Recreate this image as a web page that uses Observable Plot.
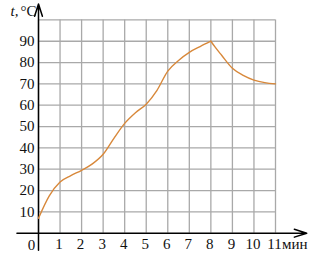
<!DOCTYPE html>
<html><head><meta charset="utf-8">
<script src="https://cdn.jsdelivr.net/npm/d3@7"></script>
<script src="https://cdn.jsdelivr.net/npm/@observablehq/plot@0.6"></script>
<style>body{margin:0;background:#fff} svg text{font-family:"Liberation Serif","Times New Roman",serif !important}</style>
</head><body><div id="chart"></div>
<script>
const riseX = [0, 0.5, 1, 1.5, 2, 2.5, 3, 3.5, 4, 4.5, 5, 5.5, 6, 6.5, 7, 7.5, 8];
const riseT = [7, 17.5, 24, 27, 29.5, 32.5, 37, 44.5, 51.5, 56.5, 60.5, 67, 76, 81, 84.8, 87.5, 90];
const fallX = [8, 8.2, 8.5, 9, 9.5, 10, 10.5, 11];
const fallT = [90, 87.2, 83.4, 77.3, 74, 71.8, 70.6, 70];
const xTicks = [1,2,3,4,5,6,7,8,9,10,11];
const yTicks = [10,20,30,40,50,60,70,80,90];
const gridX = [0,1,2,3,4,5,6,7,8,9,10,11];
const gridY = [10,20,30,40,50,60,70,80,90,100];

const rise = riseX.map((x,i)=>({x, t: riseT[i]}));
const fall = fallX.map((x,i)=>({x, t: fallT[i]}));
const font = '"Liberation Serif", "Times New Roman", serif';
const orange = "#d8883a";

const dart = {
  draw(context, l) {
    context.moveTo(0, -l);
    context.lineTo(3.6, 0);
    context.lineTo(0, -3);
    context.lineTo(-3.6, 0);
    context.closePath();
  }
};

let arrowMarks;
try {
  arrowMarks = [
    Plot.link([{x1: -1, y1: 0, x2: 12.2, y2: 0}, {x1: 0, y1: -8, x2: 0, y2: 106}],
      {x1: "x1", y1: "y1", x2: "x2", y2: "y2", stroke: "#000", strokeWidth: 1.5}),
    Plot.vector([{x: 12.45, y: 0, r: 90}, {x: 0, y: 107.5, r: 0}],
      {x: "x", y: "y", rotate: "r", length: 13, anchor: "tip", shape: dart, fill: "#000", stroke: "#000", strokeWidth: 0.6})
  ];
} catch (e) {
  arrowMarks = [Plot.arrow([{x1: -1, y1: 0, x2: 12.45, y2: 0}, {x1: 0, y1: -8, x2: 0, y2: 107.5}],
      {x1: "x1", y1: "y1", x2: "x2", y2: "y2", stroke: "#000", strokeWidth: 1.5, headLength: 13, headAngle: 35})];
}

const chart = Plot.plot({
  width: 322, height: 256,
  marginLeft: 38, marginRight: 47, marginTop: 19.4, marginBottom: 23.3,
  style: {fontFamily: font, fontSize: "15px", background: "#fff", overflow: "visible"},
  x: {domain: [0, 11]},
  y: {domain: [0, 100]},
  marks: [
    Plot.ruleX(gridX, {y1: 0, y2: 100, stroke: "#a9a9a9", strokeWidth: 1.3, strokeOpacity: 1}),
    Plot.ruleY(gridY, {x1: 0, x2: 11, stroke: "#a9a9a9", strokeWidth: 1.3, strokeOpacity: 1}),
    Plot.axisX(xTicks, {tickSize: 0, tickPadding: 5, fontSize: 15, fontFamily: font, label: null, fill: "#111", dx: -1}),
    Plot.axisY(yTicks, {tickSize: 0, tickPadding: 4, fontSize: 15, fontFamily: font, label: null, fill: "#111"}),
    ...arrowMarks,
    Plot.line(rise, {x: "x", y: "t", curve: "monotone-x", stroke: orange, strokeWidth: 1.4}),
    Plot.line(fall, {x: "x", y: "t", curve: "monotone-x", stroke: orange, strokeWidth: 1.4}),
    Plot.text(["0"], {x: 0, y: 0, dx: -7, dy: 12, fontSize: 15, fontFamily: font, fill: "#111"}),
    Plot.text(["t,"], {x: -0.93, y: 104, textAnchor: "end", fontStyle: "italic", fontSize: 15, fontFamily: font, fill: "#111"}),
    Plot.text(["°C"], {x: -0.84, y: 104, textAnchor: "start", fontSize: 15, fontFamily: font, fill: "#111"}),
    Plot.text(["мин"], {x: 11.3, y: 0, dy: 11, textAnchor: "start", fontSize: 15, fontFamily: font, fill: "#111"})
  ]
});
document.getElementById("chart").appendChild(chart);
</script>
</body></html>
